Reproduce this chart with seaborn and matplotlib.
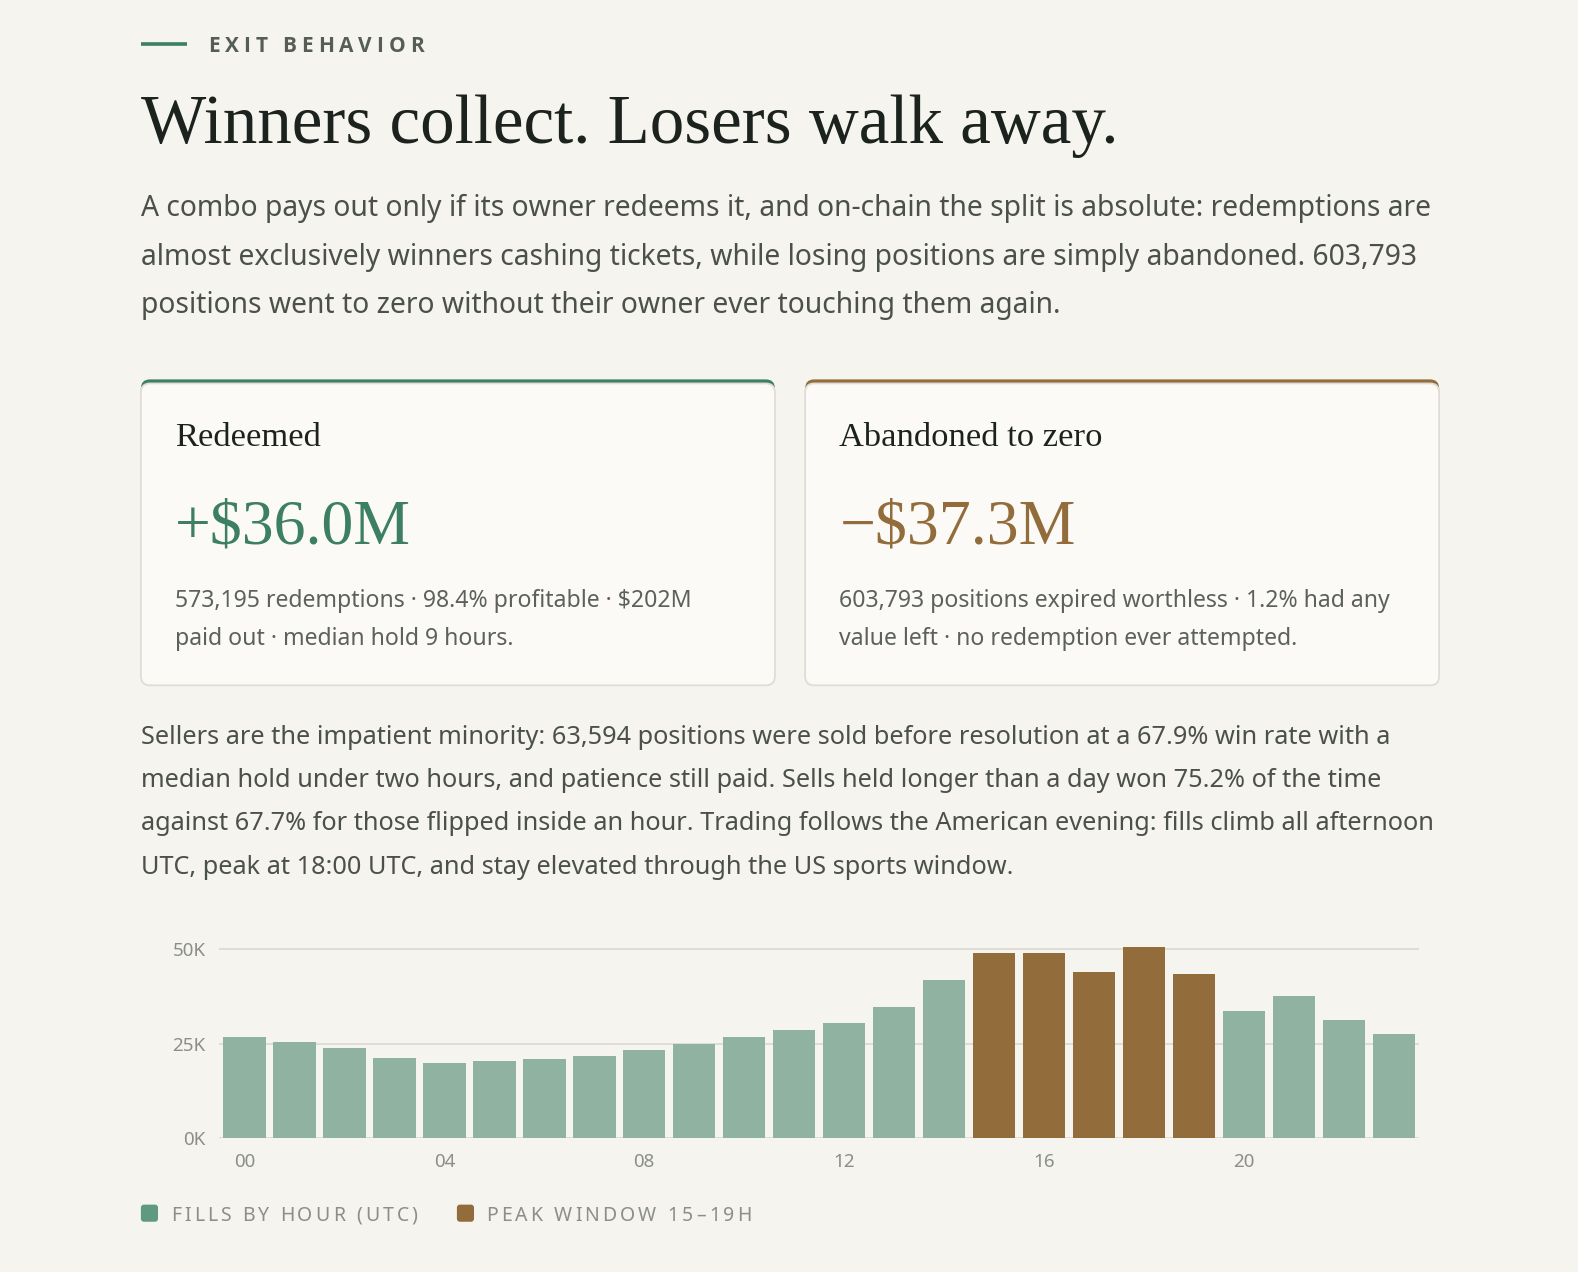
import pandas as pd
import seaborn as sns
import matplotlib.pyplot as plt
from matplotlib.patches import FancyBboxPatch

sns.set_theme(style='white')
plt.rcParams['font.family'] = ['Noto Sans', 'DejaVu Sans']

# Data (fills in thousands)
hours = [f'{h:02d}' for h in range(24)]
fills_k = [26.8, 25.3, 23.8, 21.2, 19.9, 20.5, 20.8, 21.7, 23.2, 25.0, 26.8, 28.6,
           30.5, 34.6, 41.9, 48.8, 49.0, 43.8, 50.4, 43.5, 33.6, 37.5, 31.2, 27.6]
peak_hours = ['15', '16', '17', '18', '19']
y_ticks = [0, 25000, 50000]
y_labels = ['0K', '25K', '50K']
x_tick_hours = ['00', '04', '08', '12', '16', '20']
legend_labels = ['FILLS BY HOUR (UTC)', 'PEAK WINDOW 15–19H']

eyebrow = 'EXIT BEHAVIOR'
title = 'Winners collect. Losers walk away.'
intro = [
    'A combo pays out only if its owner redeems it, and on-chain the split is absolute: redemptions are',
    'almost exclusively winners cashing tickets, while losing positions are simply abandoned. 603,793',
    'positions went to zero without their owner ever touching them again.',
]
cards = [
    ('Redeemed', '+$36.0M', ['573,195 redemptions · 98.4% profitable · $202M',
                             'paid out · median hold 9 hours.']),
    ('Abandoned to zero', '−$37.3M', ['603,793 positions expired worthless · 1.2% had any',
                                      'value left · no redemption ever attempted.']),
]
body = [
    'Sellers are the impatient minority: 63,594 positions were sold before resolution at a 67.9% win rate with a',
    'median hold under two hours, and patience still paid. Sells held longer than a day won 75.2% of the time',
    'against 67.7% for those flipped inside an hour. Trading follows the American evening: fills climb all afternoon',
    'UTC, peak at 18:00 UTC, and stay elevated through the US sports window.',
]

df = pd.DataFrame({'hour': hours, 'fills': [v * 1000 for v in fills_k]})
df['window'] = ['peak' if h in peak_hours else 'normal' for h in df['hour']]

W, H = 1578, 1272
S = 1578 / 1568          # layout measured on a 1568-wide view
BG = '#f5f4ef'
GREEN = '#3d7f62'
GREEN_BAR = '#8fb3a0'
GREEN_SW = '#5f9a80'
BROWN = '#926c3a'
INK = '#1c231e'
TEXT = '#4b504b'
MUTED = '#8b8e89'
SERIF = ['Liberation Serif', 'DejaVu Serif']

fig = plt.figure(figsize=(W / 100, H / 100), dpi=100, facecolor=BG)
ov = fig.add_axes([0, 0, 1, 1], zorder=0)
ov.set_xlim(0, W / S)
ov.set_ylim(H / S, 0)
ov.axis('off')
r = fig.canvas.get_renderer()


def put(x, y, s, size, **kw):
    return ov.text(x, y, s, fontsize=size, va='baseline', ha='left', **kw)


def size_for(s, width, size0=20, **kw):
    t = put(0, 0, s, size0, **kw)
    w = t.get_window_extent(r).width / S
    t.remove()
    return size0 * width / w


def tracked(x0, x1, y, s, size, **kw):
    widths = []
    for ch in s:
        if ch == ' ':
            widths.append(size * 0.26 * 100 / 72 / S)
            continue
        t = put(0, 0, ch, size, **kw)
        widths.append(t.get_window_extent(r).width / S)
        t.remove()
    gap = (x1 - x0 - sum(widths)) / (len(s) - 1)
    x = x0
    for ch, w in zip(s, widths):
        if ch != ' ':
            put(x, y, ch, size, **kw)
        x += w + gap


# Eyebrow
ov.plot([140, 186], [44, 44], color=GREEN, lw=2.6, solid_capstyle='butt')
tracked(207, 421, 52, eyebrow, 15, color='#565c56', fontweight='bold',
        family=['Open Sans', 'DejaVu Sans'])

# Title
ts = size_for(title, 972, family=SERIF)
put(140, 142, title, ts, color=INK, family=SERIF)

# Intro paragraph
ps = size_for(intro[0], 1285)
for i, line in enumerate(intro):
    put(140, 215 + 48 * i, line, ps, color=TEXT)

# Cards
for k, (head, big, cap) in enumerate(cards):
    x0 = 140 + 660 * k
    col = GREEN if k == 0 else BROWN
    ov.add_patch(FancyBboxPatch((x0, 377), 630, 304, boxstyle='round,pad=0,rounding_size=9',
                                fc=col, ec='none', zorder=1))
    ov.add_patch(FancyBboxPatch((x0, 381), 630, 300, boxstyle='round,pad=0,rounding_size=9',
                                fc='#fbfaf7', ec='#e0ddd6', lw=1.3, zorder=2))
    hs = size_for('Redeemed', 145, family=SERIF)
    put(x0 + 34, 443, head, hs, color=INK, family=SERIF, zorder=3)
    bs = size_for('+$36.0M', 234, family=SERIF)
    put(x0 + 34, 540, big, bs, color=col, family=SERIF, zorder=3)
    cs = size_for(cards[0][2][0], 514)
    for i, line in enumerate(cap):
        put(x0 + 34, 603 + 38 * i, line, cs, color='#5c615c', zorder=3)

# Body paragraph
bs2 = size_for(body[2], 1283)
for i, line in enumerate(body):
    put(140, 739 + 43 * i, line, bs2, color=TEXT)

# Bar chart
ax = fig.add_axes([218 * S / W, 1 - 1131 * S / H, 1192 * S / W, 190 * S / H], zorder=1)
ax.set_facecolor('none')
sns.barplot(data=df, x='hour', y='fills', hue='window',
            palette={'normal': GREEN_BAR, 'peak': BROWN}, saturation=1,
            dodge=False, width=0.85, legend=False, linewidth=0, ax=ax, zorder=3)
ax.set_ylim(0, 50500)
ax.set_xlim(-0.5, 23.5)
for v in y_ticks:
    ax.axhline(v, color='#dcdad3', lw=1.3, zorder=1)
ax.set_yticks(y_ticks)
ax.set_yticklabels(y_labels)
ax.set_xticks([hours.index(h) for h in x_tick_hours])
ax.set_xticklabels(x_tick_hours)
ax.tick_params(axis='both', length=0, labelsize=13.5, colors=MUTED)
ax.tick_params(axis='y', pad=10)
ax.tick_params(axis='x', pad=11)
ax.set_xlabel('')
ax.set_ylabel('')
sns.despine(ax=ax, left=True, bottom=True)

# Legend
for (sx, tx0, tx1), lab, col in zip([(140, 170, 415), (454, 483, 747)], legend_labels,
                                    [GREEN_SW, BROWN]):
    ov.add_patch(FancyBboxPatch((sx, 1197), 17, 17, boxstyle='round,pad=0,rounding_size=3',
                                fc=col, ec='none'))
    tracked(tx0, tx1, 1213, lab, 14, color=MUTED)

fig.savefig('out.png', dpi=100, facecolor=BG)
